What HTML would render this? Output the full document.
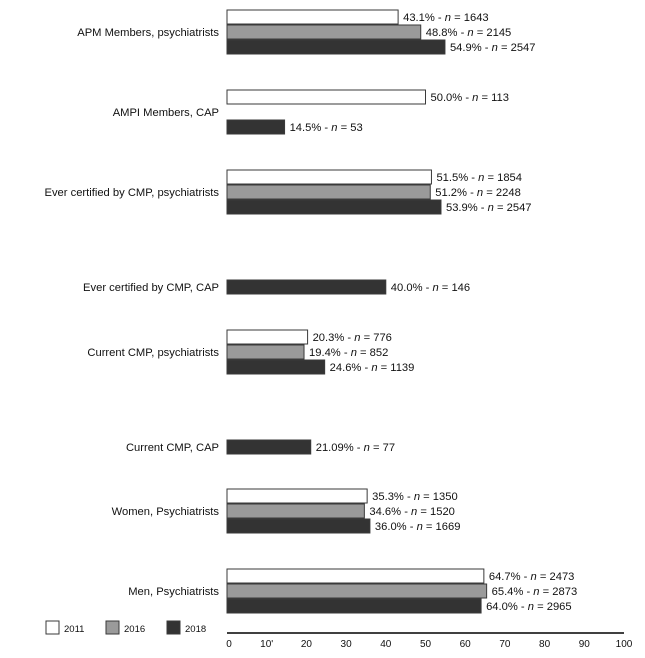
<!DOCTYPE html>
<html><head><meta charset="utf-8">
<style>
body{margin:0;background:#fff;}
svg{display:block;font-family:"Liberation Sans",Arial,sans-serif;}
</style></head>
<body>
<svg id="chart" width="645" height="658" viewBox="0 0 645 658">
</svg>
<script>
const categories = ["APM Members, psychiatrists","AMPI Members, CAP","Ever certified by CMP, psychiatrists","Ever certified by CMP, CAP","Current CMP, psychiatrists","Current CMP, CAP","Women, Psychiatrists","Men, Psychiatrists"];
const series2011 = [43.1, 50.0, 51.5, null, 20.3, null, 35.3, 64.7];
const series2016 = [48.8, null, 51.2, null, 19.4, null, 34.6, 65.4];
const series2018 = [54.9, 14.5, 53.9, 40.0, 24.6, 21.09, 36.0, 64.0];
const n2011 = [1643, 113, 1854, null, 776, null, 1350, 2473];
const n2016 = [2145, null, 2248, null, 852, null, 1520, 2873];
const n2018 = [2547, 53, 2547, 146, 1139, 77, 1669, 2965];
const label2011 = ["43.1%","50.0%","51.5%",null,"20.3%",null,"35.3%","64.7%"];
const label2016 = ["48.8%",null,"51.2%",null,"19.4%",null,"34.6%","65.4%"];
const label2018 = ["54.9%","14.5%","53.9%","40.0%","24.6%","21.09%","36.0%","64.0%"];
const tickLabels = ["0","10'","20","30","40","50","60","70","80","90","100"];
const tickValues = [0,10,20,30,40,50,60,70,80,90,100];
const years = ["2011","2016","2018"];

const svg = document.getElementById('chart');
const NS = "http://www.w3.org/2000/svg";
const x0 = 227, x1 = 624;
const xs = v => x0 + (v/100)*(x1-x0);
const groupTop = [10, 90, 170, 250, 330, 410, 489, 569];
const labelY = [32, 112, 192, 287, 352, 447, 511, 591];
const fills = ["#ffffff","#9a9a9a","#333333"];
const allSeries = [series2011, series2016, series2018];
const allN = [n2011, n2016, n2018];
const allLab = [label2011, label2016, label2018];
function mk(tag, attrs, parent){const e=document.createElementNS(NS,tag);for(const k in attrs)e.setAttribute(k,attrs[k]);(parent||svg).appendChild(e);return e;}

categories.forEach((c,i)=>{
  const t = mk('text',{x:219,y:labelY[i]+4,'text-anchor':'end','font-size':'11.2',fill:'#111'});
  t.textContent = c;
  
  
  for(let s=0;s<3;s++){
    const v = allSeries[s][i];
    if(v===null) continue;
    let y = groupTop[i] + s*15;
    if(i===1 && s===2) y = groupTop[i] + 30;
    const r = mk('rect',{x:x0,y:y,width:xs(v)-x0,height:14,fill:fills[s],stroke:'#3a3a3a','stroke-width':1});
    
    
    const vt = mk('text',{x:xs(v)+5,y:y+11,'font-size':'11.2',fill:'#111'});
    vt.innerHTML = allLab[s][i] + ' - <tspan font-style="italic">n</tspan> = ' + allN[s][i];
    
    
  }
});

const ax = mk('line',{x1:x0,x2:x1,y1:633,y2:633,stroke:'#000','stroke-width':1.5});


tickValues.forEach((v,i)=>{
  const t = mk('text',{x:xs(v)+(i===0?2:0),y:647,'text-anchor':'middle','font-size':'10',fill:'#111'});
  t.textContent = tickLabels[i];
  
  
});

const legX = [46, 106, 167];
years.forEach((yr,i)=>{
  const r = mk('rect',{x:legX[i],y:621,width:13,height:13,fill:fills[i],stroke:'#3a3a3a','stroke-width':1});
  
  
  const t = mk('text',{x:legX[i]+18,y:632,'font-size':'9.5',fill:'#111'});
  t.textContent = yr;
  
  
});
</script>
</body></html>
